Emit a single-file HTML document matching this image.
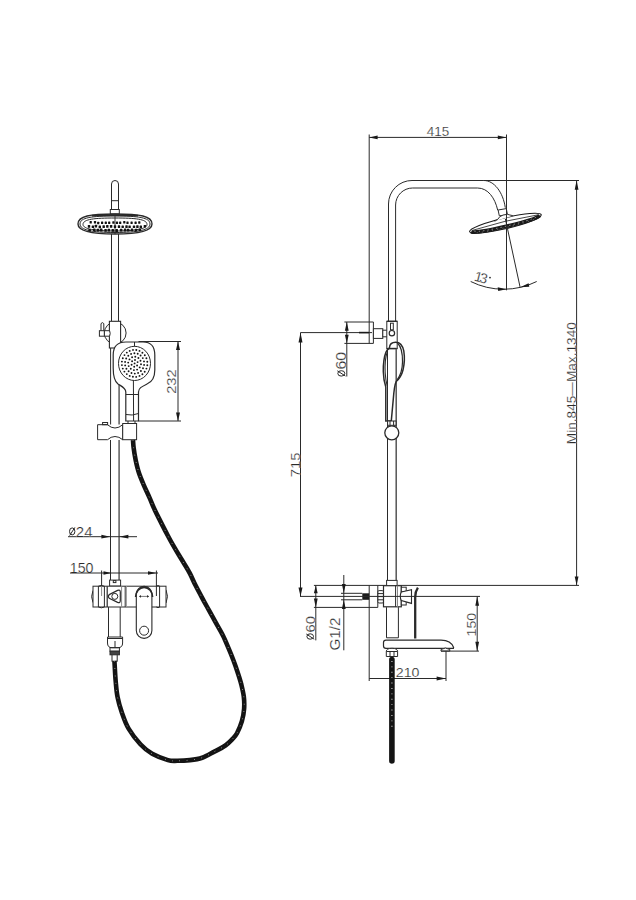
<!DOCTYPE html>
<html><head><meta charset="utf-8">
<style>
html,body{margin:0;padding:0;background:#fff;width:636px;height:900px;overflow:hidden}
svg{display:block}
text{font-family:"Liberation Sans",sans-serif;fill:#2a2a2a;stroke:#fff;stroke-width:0.22px;paint-order:normal}
</style></head><body>
<svg width="636" height="900" viewBox="0 0 636 900">
<rect width="636" height="900" fill="#fff"/>
<g fill="none" stroke="#2a2a2a" stroke-width="1">

<!-- ================= LEFT VIEW ================= -->
<!-- top stub -->
<path d="M111.5 210 V184 A3.5 3.5 0 0 1 118.5 184 V210"/>
<line x1="111.5" y1="200.7" x2="118.5" y2="200.7"/>
<rect x="110.3" y="209.5" width="9" height="4.5"/>
<!-- shower head front -->
<path d="M78 224 C78 216 90 214 115 214 C140 214 152 216 152 224 C152 231 140 234 115 234 C90 234 78 231 78 224 Z" stroke-width="1.4"/>
<path d="M92 215.6 Q115 214.6 138 215.6" stroke-width="1.6"/>
<line x1="115" y1="216" x2="115" y2="234" stroke-width="0.9"/>
<path d="M80 224 C80 217.5 92 216 115 216 C138 216 150 217.5 150 224 C150 230 138 232.5 115 232.5 C92 232.5 80 230 80 224 Z"/>
<path d="M83 224.5 C83 219 95 218 115 218 C135 218 147 219 147 224.5 C147 229 135 231 115 231 C95 231 83 229 83 224.5 Z"/>

<!-- rail pipe -->
<line x1="111.5" y1="234" x2="111.5" y2="321"/>
<line x1="118.5" y1="234" x2="118.5" y2="321"/>
<line x1="110.6" y1="348" x2="110.6" y2="424.5"/>
<line x1="119.1" y1="383" x2="119.1" y2="424.5" stroke="#666" stroke-width="1.6"/>
<line x1="110.5" y1="440" x2="110.5" y2="580"/>
<line x1="119.1" y1="440" x2="119.1" y2="580" stroke="#666" stroke-width="1.6"/>

<!-- slider -->
<circle cx="115.2" cy="333" r="10.9"/>
<rect x="109.4" y="321.3" width="11.2" height="26.7" fill="#fff" stroke-width="1.1"/>
<rect x="99.4" y="330.7" width="5" height="5.5" fill="#fff"/>
<path d="M104.4 330.7 H109.6 Q110.8 333.4 109.6 336.2 H104.4 Z" fill="#fff"/>
<path d="M101 330.7 V323.6 Q102.4 321.6 103.8 323.6 V330.7"/>
<!-- hand shower front -->
<path d="M125.8 421 V392 C125.8 388 122 386.5 118 384 C114 381 113.2 376 113.2 368 V355 C113.2 346 118 342 126 342 H143 C151 342 154.8 346 154.8 355 V370 C154.8 378 152 382 147 384 C142 386.5 138.5 388 138.5 392 V421 Z" fill="#fff" stroke-width="1.2"/>
<ellipse cx="134.5" cy="363.4" rx="16" ry="17.1"/>
<line x1="125.8" y1="394.5" x2="138.5" y2="394.5"/>
<path d="M133.4 380.5 L133.6 421"/>
<path d="M126 414.5 Q132 416 138.5 413.5"/>
<line x1="134.5" y1="342" x2="134.5" y2="346.5"/>

<!-- dimension 232 -->
<line x1="138.5" y1="341.5" x2="181" y2="341.5"/>
<line x1="138.5" y1="421" x2="181" y2="421"/>
<line x1="178" y1="341.5" x2="178" y2="421"/>

<!-- holder -->
<path d="M97.6 424.7 H107.5 Q111 428 115 428 Q119 428 122.7 424.7 V439.7 Q119 436.5 115 436.5 Q111 436.5 107.5 439.7 H97.6 Z" fill="#fff"/>
<rect x="122.7" y="423.5" width="13.9" height="16.2" fill="#fff"/>
<rect x="102.6" y="422.5" width="5" height="2.2"/>
<line x1="128" y1="421" x2="128" y2="423.5"/>
<line x1="135" y1="421" x2="135" y2="423.5"/>

<!-- dim Ø24 -->
<line x1="68" y1="536.7" x2="137" y2="536.7"/>
<!-- dim 150 -->
<line x1="70" y1="573" x2="158" y2="573"/>
<line x1="101.6" y1="570.5" x2="101.6" y2="586.2"/>
<line x1="156.4" y1="570.5" x2="156.4" y2="586.2"/>

<!-- mixer cap -->
<rect x="109.6" y="580.1" width="11" height="6" fill="#fff"/>
<rect x="113.3" y="580.6" width="2.6" height="2"/>
<!-- mixer body -->
<path d="M93 590.5 Q90.2 596.6 93 602.6"/>
<path d="M166 589.8 Q169 596.4 166 603"/>
<rect x="93" y="586.2" width="73" height="20.8" fill="#fff"/>
<path d="M98.4 586.2 Q101.4 584.6 104.4 586.2 M98.4 607 Q101.4 608.6 104.4 607"/>
<line x1="98.4" y1="586.2" x2="98.4" y2="607"/>
<line x1="104.4" y1="586.2" x2="104.4" y2="607"/>
<line x1="101.6" y1="586.2" x2="101.6" y2="596" stroke="#888"/>
<line x1="107.2" y1="586.2" x2="107.2" y2="607" stroke-width="1.2"/>
<line x1="121.6" y1="586.2" x2="121.6" y2="607" stroke="#888"/>
<line x1="125.2" y1="586.2" x2="125.2" y2="607"/>
<line x1="126.4" y1="586.2" x2="126.4" y2="607" stroke="#999"/>
<path d="M156.3 586.2 Q158 584.8 159.7 586.2 M156.3 607 Q158 608.4 159.7 607"/>
<line x1="156.4" y1="586.2" x2="156.4" y2="596"/>
<line x1="159.6" y1="586.2" x2="159.6" y2="607"/>
<!-- triangle knob (points left) -->
<path d="M109.2 594.6 L117.6 590.4 Q120.3 589.4 120.3 592.2 V600.6 Q120.3 603.4 117.6 602.4 L109.2 598.2 Q107.4 596.4 109.2 594.6 Z" stroke-width="1.2"/>
<circle cx="114.8" cy="596.4" r="3"/>
<!-- lever -->
<path d="M136.3 594.2 A7.8 7.8 0 0 1 151.9 594.2 V630.6 A7.8 7.8 0 0 1 136.3 630.6 Z" fill="#fff" stroke-width="1.1"/>
<path d="M135.6 597 A8.5 9.6 0 0 1 152.6 597" stroke-width="1.6"/>
<circle cx="144.1" cy="630.7" r="4.5"/>
<line x1="139.5" y1="596.4" x2="148.8" y2="596.4" stroke="#777"/>
<path d="M139 596.4 l2 -1.3 v2.6 z M149 596.4 l-2 -1.3 v2.6 z" fill="#2a2a2a" stroke="none"/>

<!-- below mixer -->
<line x1="108.5" y1="607.1" x2="108.5" y2="637"/>
<line x1="120.2" y1="607.1" x2="120.2" y2="637"/>
<path d="M107.5 637 H122.6 V643 Q122.6 647.7 118 647.7 H112 Q107.5 647.7 107.5 643 Z" fill="#fff"/>
<line x1="107.5" y1="638.5" x2="122.6" y2="638.5"/>
<line x1="115" y1="641" x2="115" y2="647.7"/>
<rect x="110" y="647.7" width="9.4" height="3.5"/>
<rect x="110" y="651.2" width="9.4" height="3.6" fill="#444"/>
<rect x="112" y="654.8" width="5.2" height="6.4" fill="#fff"/>

<!-- ================= RIGHT VIEW ================= -->
<!-- 415 dim -->
<line x1="369.2" y1="137.4" x2="506.5" y2="137.4"/>
<line x1="369.2" y1="134.5" x2="369.2" y2="343.4"/>
<!-- pipe with bend -->
<path d="M388.5 321.3 V204 A23.5 23.5 0 0 1 412 180.5 H483.9 C494 180.5 503 192 505.3 207.7"/>
<path d="M395.6 321.3 V205 A17 17 0 0 1 412.6 188 H477.6 C488 188 495 198 497.7 210.2"/>
<!-- top extension -->
<line x1="483.9" y1="180.5" x2="579" y2="180.5"/>

<!-- shower head tilted -->
<path d="M498.1 210 L506.3 208.6 L507.5 215 L499.3 215.8 Z" fill="#fff"/>
<g transform="translate(505.4,223.2) rotate(-13.3)">
<ellipse cx="0" cy="0" rx="36.8" ry="5.4" fill="#fff" stroke="#1a1a1a" stroke-width="1.1"/>
<path d="M-35.2 0.4 A35.5 3.4 0 0 0 35.2 0.4" stroke="#1a1a1a" stroke-width="3.8"/>
<path d="M-32 1.0 A33 2.8 0 0 0 32 1.0" stroke="#fff" stroke-width="0.8" stroke-dasharray="1.4 3" opacity="0.6"/>
<path d="M-30 2.6 A31 2.2 0 0 0 30 2.6" stroke="#fff" stroke-width="0.6" stroke-dasharray="1.2 4" opacity="0.5"/>
<path d="M-34 -0.6 Q0 -3.2 34 -0.6" stroke-width="0.8"/>
<path d="M-10 -4.3 Q-6 -5.2 -4 -7.6 Q-1 -9 4 -8.2 Q6 -7 9 -5.6" fill="#fff" stroke-width="0.9"/>
</g>
<!-- 13 deg -->
<line x1="506.5" y1="134.5" x2="506.5" y2="290.3"/>
<line x1="505.4" y1="219" x2="520.2" y2="287.6"/>
<path d="M470.7 281.5 A74.3 74.3 0 0 0 536.7 281.5"/>

<!-- wall bracket top -->
<line x1="344.4" y1="322" x2="373.4" y2="322"/>
<line x1="344.4" y1="343.4" x2="373.4" y2="343.4"/>
<line x1="373.4" y1="322" x2="373.4" y2="343.4"/>
<line x1="346.8" y1="322" x2="346.8" y2="376.5"/>
<line x1="300.5" y1="332.6" x2="372" y2="332.6"/>
<rect x="373.4" y="328.7" width="9.4" height="9.7" fill="#fff"/>
<rect x="382.8" y="330.2" width="4.8" height="6.6" fill="#fff"/>
<!-- slider on rail -->
<rect x="386.8" y="321.3" width="10.4" height="27.3" fill="#fff"/>
<line x1="386.8" y1="348.6" x2="397.2" y2="348.6" stroke-width="1.4"/>
<line x1="386.8" y1="321.3" x2="397.2" y2="321.3" stroke-width="1.3"/>
<circle cx="391.9" cy="333.2" r="2.7" stroke-width="1.2"/>
<rect x="390.5" y="323.2" width="2.8" height="6.6"/>
<!-- lower rail -->
<line x1="387.5" y1="348.6" x2="387.5" y2="580"/>
<line x1="396.2" y1="348.6" x2="396.2" y2="580" stroke="#555" stroke-width="1.5"/>
<!-- hand shower side -->
<path d="M389.4 348 C389.6 344.5 392 342.3 395.7 342.3 C399.5 342.3 402.6 345.5 403.8 351 C404.6 356 404.4 364 403 370 C401.6 375.5 399 379 396.2 381.5 C394.6 384.5 393.8 392 393.2 400 L391.3 420.8 L385.8 421 L385.8 387 C384.5 383 383.4 377 383.3 371.5 C383.2 364 384 357 386 352 C387 350 388 348.8 389.4 348 Z" stroke-width="1.5"/>
<path d="M397.5 343.2 C401.5 346.5 402.6 354 402.5 362 C402.4 370 400 376 397 380" stroke-width="1.2"/>
<path d="M387.4 351.5 C385.4 357 384.8 366 385.2 373 C385.6 379 386.4 383 387.2 386" stroke-width="1.1"/>
<line x1="389.4" y1="348.4" x2="396.2" y2="348.4"/>
<rect x="387.6" y="421" width="8.4" height="4.3" fill="#fff"/>
<line x1="390" y1="421" x2="390" y2="425.3"/>
<line x1="393.6" y1="421" x2="393.6" y2="425.3"/>
<circle cx="391.8" cy="432.8" r="7" fill="#fff" stroke-width="1.3"/>

<!-- 715 dim -->
<line x1="300.5" y1="332.6" x2="300.5" y2="596.4"/>

<!-- 1340 dim -->
<line x1="576.6" y1="180.5" x2="576.6" y2="585.2"/>
<line x1="313.9" y1="585.4" x2="579" y2="585.4"/>

<!-- bottom flange -->
<line x1="313.9" y1="607.4" x2="377.8" y2="607.4"/>
<line x1="377.8" y1="585.4" x2="377.8" y2="607.4"/>
<line x1="369.2" y1="585.4" x2="369.2" y2="681"/>
<line x1="315.8" y1="585.4" x2="315.8" y2="640.4"/>
<line x1="343.8" y1="575" x2="343.8" y2="650.3"/>
<line x1="341" y1="593.3" x2="362.3" y2="593.3"/>
<line x1="341" y1="599.8" x2="362.3" y2="599.8"/>
<rect x="362.3" y="593.3" width="6.9" height="6.5" fill="#1a1a1a" stroke="none"/>
<!-- connector nut -->
<rect x="377.9" y="590.6" width="5.6" height="12.4" rx="1.2" fill="#fff"/>
<line x1="377.9" y1="593.6" x2="383.5" y2="593.6"/>
<line x1="377.9" y1="596.6" x2="383.5" y2="596.6"/>
<line x1="377.9" y1="599.8" x2="383.5" y2="599.8"/>
<!-- mixer body side -->
<rect x="386.6" y="580.4" width="10.5" height="5.6" fill="#fff"/>
<rect x="383.5" y="585.7" width="17.8" height="21.1" fill="#fff" stroke-width="1.2"/>
<line x1="395.6" y1="585.7" x2="395.6" y2="606.8"/>
<line x1="397.5" y1="585.7" x2="397.5" y2="606.8" stroke="#888"/>
<rect x="401.3" y="587.2" width="4.9" height="4.5" fill="#fff"/>
<rect x="401.3" y="600.5" width="4.9" height="4.5" fill="#fff"/>
<path d="M401.3 592 L411.5 589.8 V603.4 L401.3 600.5 Q399.2 596.3 401.3 592 Z" fill="#fff" stroke-width="1.1"/>
<path d="M417.9 587.6 Q415.2 591.5 415.2 597 V638.6" stroke-width="2.3"/>
<line x1="300" y1="596.4" x2="480" y2="596.4"/>
<!-- pipe below -->
<line x1="386.5" y1="607.2" x2="386.5" y2="637.8"/>
<line x1="398.4" y1="607.2" x2="398.4" y2="637.8"/>
<line x1="386.5" y1="637.8" x2="398.4" y2="637.8"/>
<!-- spout -->
<path d="M386 640.1 H441 C447 640.1 452 643 453.6 647.5 L453.4 648.3 H386 Q383.5 648.3 383.5 646 V642.5 Q383.5 640.1 386 640.1 Z" fill="#fff" stroke-width="1.2"/>
<path d="M441 651.1 V649.5 Q445.4 646.5 449.8 649.5 V651.1 Z" fill="#fff"/>
<line x1="441" y1="651.1" x2="479" y2="651.1"/>
<line x1="446" y1="651.1" x2="446" y2="681"/>
<line x1="477.2" y1="596.4" x2="477.2" y2="651.1"/>
<!-- 210 dim -->
<line x1="369.2" y1="678.5" x2="446" y2="678.5"/>
<!-- nut under spout -->
<path d="M386.3 656.5 V651.5 Q386.3 648.3 392 648.3 Q397.6 648.3 397.6 651.5 V656.5 Z" fill="#fff"/>
<line x1="386.3" y1="651.5" x2="397.6" y2="651.5"/>
<line x1="390" y1="651.5" x2="390" y2="656.5"/>
<line x1="394" y1="651.5" x2="394" y2="656.5"/>
</g>

<!--DOTS--><g fill="#151515" stroke="none"><circle cx="134.6" cy="363.4" r="0.95"/><circle cx="134.2" cy="366.8" r="0.95"/><circle cx="131.6" cy="364.7" r="0.95"/><circle cx="132.1" cy="361.3" r="0.95"/><circle cx="135.0" cy="360.0" r="0.95"/><circle cx="137.6" cy="362.1" r="0.95"/><circle cx="137.1" cy="365.5" r="0.95"/><circle cx="137.1" cy="369.6" r="0.95"/><circle cx="133.9" cy="370.1" r="0.95"/><circle cx="130.8" cy="368.8" r="0.95"/><circle cx="128.7" cy="366.1" r="0.95"/><circle cx="128.2" cy="362.6" r="0.95"/><circle cx="129.5" cy="359.4" r="0.95"/><circle cx="132.1" cy="357.2" r="0.95"/><circle cx="135.3" cy="356.7" r="0.95"/><circle cx="138.4" cy="358.0" r="0.95"/><circle cx="140.5" cy="360.7" r="0.95"/><circle cx="141.0" cy="364.2" r="0.95"/><circle cx="139.7" cy="367.4" r="0.95"/><circle cx="131.5" cy="373.0" r="0.95"/><circle cx="128.6" cy="371.3" r="0.95"/><circle cx="126.4" cy="368.7" r="0.95"/><circle cx="125.2" cy="365.4" r="0.95"/><circle cx="125.1" cy="361.9" r="0.95"/><circle cx="126.2" cy="358.5" r="0.95"/><circle cx="128.3" cy="355.8" r="0.95"/><circle cx="131.1" cy="353.9" r="0.95"/><circle cx="134.4" cy="353.2" r="0.95"/><circle cx="137.7" cy="353.8" r="0.95"/><circle cx="140.6" cy="355.5" r="0.95"/><circle cx="142.8" cy="358.1" r="0.95"/><circle cx="144.0" cy="361.4" r="0.95"/><circle cx="144.1" cy="364.9" r="0.95"/><circle cx="143.0" cy="368.3" r="0.95"/><circle cx="140.9" cy="371.0" r="0.95"/><circle cx="138.1" cy="372.9" r="0.95"/><circle cx="134.8" cy="373.6" r="0.95"/><circle cx="129.7" cy="375.9" r="0.95"/><circle cx="126.8" cy="374.1" r="0.95"/><circle cx="124.4" cy="371.6" r="0.95"/><circle cx="122.8" cy="368.6" r="0.95"/><circle cx="121.9" cy="365.1" r="0.95"/><circle cx="121.9" cy="361.6" r="0.95"/><circle cx="122.8" cy="358.2" r="0.95"/><circle cx="124.5" cy="355.1" r="0.95"/><circle cx="126.8" cy="352.6" r="0.95"/><circle cx="129.7" cy="350.9" r="0.95"/><circle cx="133.0" cy="349.9" r="0.95"/><circle cx="136.3" cy="350.0" r="0.95"/><circle cx="139.5" cy="350.9" r="0.95"/><circle cx="142.4" cy="352.7" r="0.95"/><circle cx="144.8" cy="355.2" r="0.95"/><circle cx="146.4" cy="358.2" r="0.95"/><circle cx="147.3" cy="361.7" r="0.95"/><circle cx="147.3" cy="365.2" r="0.95"/><circle cx="146.4" cy="368.6" r="0.95"/><circle cx="144.7" cy="371.7" r="0.95"/><circle cx="142.4" cy="374.2" r="0.95"/><circle cx="139.5" cy="375.9" r="0.95"/><circle cx="136.2" cy="376.9" r="0.95"/><circle cx="132.9" cy="376.8" r="0.95"/></g>
<g fill="#111" stroke="none"><rect x="89.6" y="220.9" width="2.2" height="2.5" rx="0.5"/><rect x="93.9" y="221.1" width="2.2" height="2.5" rx="0.5"/><rect x="97.1" y="221.7" width="2.2" height="2.5" rx="0.5"/><rect x="101.0" y="221.6" width="2.2" height="2.5" rx="0.5"/><rect x="104.7" y="221.4" width="2.2" height="2.5" rx="0.5"/><rect x="108.1" y="221.4" width="2.2" height="2.5" rx="0.5"/><rect x="112.3" y="221.3" width="2.2" height="2.5" rx="0.5"/><rect x="115.9" y="221.4" width="2.2" height="2.5" rx="0.5"/><rect x="119.1" y="221.5" width="2.2" height="2.5" rx="0.5"/><rect x="123.2" y="221.1" width="2.2" height="2.5" rx="0.5"/><rect x="126.4" y="221.6" width="2.2" height="2.5" rx="0.5"/><rect x="130.5" y="221.5" width="2.2" height="2.5" rx="0.5"/><rect x="134.5" y="221.5" width="2.2" height="2.5" rx="0.5"/><rect x="138.2" y="221.2" width="2.2" height="2.5" rx="0.5"/><rect x="87.8" y="225.1" width="2.4" height="2.7" rx="0.5"/><rect x="91.7" y="225.4" width="2.4" height="2.7" rx="0.5"/><rect x="94.7" y="224.8" width="2.4" height="2.7" rx="0.5"/><rect x="98.6" y="225.5" width="2.4" height="2.7" rx="0.5"/><rect x="102.5" y="225.2" width="2.4" height="2.7" rx="0.5"/><rect x="106.1" y="225.1" width="2.4" height="2.7" rx="0.5"/><rect x="109.9" y="225.0" width="2.4" height="2.7" rx="0.5"/><rect x="113.8" y="225.2" width="2.4" height="2.7" rx="0.5"/><rect x="117.8" y="225.2" width="2.4" height="2.7" rx="0.5"/><rect x="121.5" y="225.4" width="2.4" height="2.7" rx="0.5"/><rect x="125.3" y="225.2" width="2.4" height="2.7" rx="0.5"/><rect x="128.4" y="225.4" width="2.4" height="2.7" rx="0.5"/><rect x="132.8" y="225.4" width="2.4" height="2.7" rx="0.5"/><rect x="136.2" y="225.3" width="2.4" height="2.7" rx="0.5"/><rect x="139.6" y="225.4" width="2.4" height="2.7" rx="0.5"/><rect x="143.7" y="224.9" width="2.4" height="2.7" rx="0.5"/><rect x="88.4" y="229.0" width="2.5" height="2.8" rx="0.5"/><rect x="93.0" y="228.4" width="2.5" height="2.8" rx="0.5"/><rect x="96.7" y="228.7" width="2.5" height="2.8" rx="0.5"/><rect x="100.0" y="228.6" width="2.5" height="2.8" rx="0.5"/><rect x="104.3" y="229.0" width="2.5" height="2.8" rx="0.5"/><rect x="107.6" y="228.8" width="2.5" height="2.8" rx="0.5"/><rect x="111.5" y="228.9" width="2.5" height="2.8" rx="0.5"/><rect x="115.5" y="229.1" width="2.5" height="2.8" rx="0.5"/><rect x="119.9" y="228.8" width="2.5" height="2.8" rx="0.5"/><rect x="123.8" y="228.6" width="2.5" height="2.8" rx="0.5"/><rect x="126.9" y="228.8" width="2.5" height="2.8" rx="0.5"/><rect x="130.7" y="228.5" width="2.5" height="2.8" rx="0.5"/><rect x="134.8" y="228.8" width="2.5" height="2.8" rx="0.5"/><rect x="138.5" y="228.4" width="2.5" height="2.8" rx="0.5"/></g><!--/DOTS-->
<!-- hoses -->
<!--HOSE-->
<g fill="none">
<path d="M133.0 440.0 C133.1 441.3 133.2 444.2 133.6 447.6 C134.0 451.0 134.8 456.0 135.7 460.2 C136.6 464.4 137.5 468.5 138.9 472.7 C140.3 476.9 142.1 481.1 143.9 485.3 C145.7 489.5 147.8 493.8 149.6 497.9 C151.4 502.0 152.9 505.9 154.8 510.0 C156.7 514.1 159.0 518.4 161.1 522.6 C163.2 526.8 165.4 531.0 167.6 535.2 C169.8 539.4 172.1 543.5 174.5 547.7 C176.9 551.9 179.6 556.1 182.1 560.3 C184.6 564.5 187.4 568.7 189.6 572.9 C191.8 577.1 193.4 581.2 195.5 585.3 C197.6 589.4 199.8 593.5 202.0 597.6 C204.2 601.8 206.6 606.0 208.9 610.2 C211.2 614.4 213.5 618.5 215.8 622.7 C218.1 626.9 220.7 631.1 222.8 635.3 C224.9 639.5 226.6 643.7 228.4 647.9 C230.2 652.1 232.0 656.5 233.5 660.5 C235.0 664.5 236.3 668.2 237.6 672.2 C238.9 676.2 240.3 680.3 241.3 684.4 C242.3 688.5 243.3 692.5 243.8 696.6 C244.3 700.7 244.4 704.8 244.1 708.9 C243.8 713.0 243.1 717.0 241.9 721.1 C240.7 725.2 238.6 730.2 237.0 733.3 C235.4 736.3 234.0 737.4 232.1 739.4 C230.2 741.4 228.3 743.5 225.4 745.5 C222.5 747.5 218.3 749.6 214.4 751.6 C210.5 753.6 206.3 756.3 202.2 757.7 C198.1 759.1 194.1 759.6 189.9 760.1 C185.8 760.6 181.0 760.8 177.3 760.8 C173.6 760.8 172.1 761.3 167.9 760.1 C163.7 758.9 156.8 756.4 152.2 753.8 C147.6 751.2 144.3 748.5 140.4 744.3 C136.5 740.1 131.7 733.8 128.6 728.6 C125.5 723.4 123.8 718.1 122.0 712.9 C120.2 707.7 118.6 702.5 117.6 697.2 C116.5 692.0 116.2 686.6 115.7 681.4 C115.2 676.1 114.9 669.1 114.7 665.7 C114.5 662.3 114.5 661.8 114.4 661.0" stroke="#141414" stroke-width="4.6" stroke-linecap="butt"/>
<path d="M133.0 440.0 C133.1 441.3 133.2 444.2 133.6 447.6 C134.0 451.0 134.8 456.0 135.7 460.2 C136.6 464.4 137.5 468.5 138.9 472.7 C140.3 476.9 142.1 481.1 143.9 485.3 C145.7 489.5 147.8 493.8 149.6 497.9 C151.4 502.0 152.9 505.9 154.8 510.0 C156.7 514.1 159.0 518.4 161.1 522.6 C163.2 526.8 165.4 531.0 167.6 535.2 C169.8 539.4 172.1 543.5 174.5 547.7 C176.9 551.9 179.6 556.1 182.1 560.3 C184.6 564.5 187.4 568.7 189.6 572.9 C191.8 577.1 193.4 581.2 195.5 585.3 C197.6 589.4 199.8 593.5 202.0 597.6 C204.2 601.8 206.6 606.0 208.9 610.2 C211.2 614.4 213.5 618.5 215.8 622.7 C218.1 626.9 220.7 631.1 222.8 635.3 C224.9 639.5 226.6 643.7 228.4 647.9 C230.2 652.1 232.0 656.5 233.5 660.5 C235.0 664.5 236.3 668.2 237.6 672.2 C238.9 676.2 240.3 680.3 241.3 684.4 C242.3 688.5 243.3 692.5 243.8 696.6 C244.3 700.7 244.4 704.8 244.1 708.9 C243.8 713.0 243.1 717.0 241.9 721.1 C240.7 725.2 238.6 730.2 237.0 733.3 C235.4 736.3 234.0 737.4 232.1 739.4 C230.2 741.4 228.3 743.5 225.4 745.5 C222.5 747.5 218.3 749.6 214.4 751.6 C210.5 753.6 206.3 756.3 202.2 757.7 C198.1 759.1 194.1 759.6 189.9 760.1 C185.8 760.6 181.0 760.8 177.3 760.8 C173.6 760.8 172.1 761.3 167.9 760.1 C163.7 758.9 156.8 756.4 152.2 753.8 C147.6 751.2 144.3 748.5 140.4 744.3 C136.5 740.1 131.7 733.8 128.6 728.6 C125.5 723.4 123.8 718.1 122.0 712.9 C120.2 707.7 118.6 702.5 117.6 697.2 C116.5 692.0 116.2 686.6 115.7 681.4 C115.2 676.1 114.9 669.1 114.7 665.7 C114.5 662.3 114.5 661.8 114.4 661.0" stroke="#fff" stroke-width="1" stroke-dasharray="0.9 6.5" opacity="0.55"/>
<path d="M391.9 659.6 V761" stroke="#141414" stroke-width="5.6" stroke-linecap="round"/>
<path d="M391.9 661 V730" stroke="#fff" stroke-width="1.3" stroke-dasharray="0.9 4.5" opacity="0.7"/>
</g>
<!--/HOSE-->

<!-- arrowheads -->
<g fill="#1a1a1a" stroke="none">
<!-- 232 -->
<path d="M178 341.5 L176 350 L180 350 Z"/>
<path d="M178 421 L176 412.5 L180 412.5 Z"/>
<!-- Ø24 -->
<path d="M110.3 536.7 L101.4 534.8 L101.4 538.6 Z"/>
<path d="M119.3 536.7 L128.4 534.8 L128.4 538.6 Z"/>
<!-- 150 left -->
<path d="M111.3 573 L103.5 571.2 L103.5 574.8 Z"/>
<path d="M156.5 573 L148 571.2 L148 574.8 Z"/>
<!-- 415 -->
<path d="M369.2 137.4 L377.6 135.5 L377.6 139.3 Z"/>
<path d="M506.5 137.4 L497.8 135.5 L497.8 139.3 Z"/>
<!-- 1340 -->
<path d="M576.6 180.5 L574.7 189.8 L578.5 189.8 Z"/>
<path d="M576.6 585.2 L574.7 576.5 L578.5 576.5 Z"/>
<!-- 715 -->
<path d="M300.5 332.6 L298.5 342.6 L302.5 342.6 Z"/>
<path d="M300.5 596.4 L298.5 587.6 L302.5 587.6 Z"/>
<!-- Ø60 top -->
<path d="M346.8 322 L344.9 330.7 L348.7 330.7 Z"/>
<path d="M346.8 343.4 L344.9 334.7 L348.7 334.7 Z"/>
<!-- Ø60 bottom -->
<path d="M315.8 585.4 L313.9 593.3 L317.7 593.3 Z"/>
<path d="M315.8 607.4 L313.9 598.5 L317.7 598.5 Z"/>
<!-- G1/2 -->
<path d="M343.8 593.3 L341.9 584 L345.7 584 Z"/>
<path d="M343.8 599.8 L341.9 609 L345.7 609 Z"/>
<!-- 150 right -->
<path d="M477.2 596.4 L475.3 605.8 L479.1 605.8 Z"/>
<path d="M477.2 651.1 L475.3 641.7 L479.1 641.7 Z"/>
<!-- 210 -->
<path d="M446 678.5 L436.6 676.6 L436.6 680.4 Z"/>
<!-- 13 deg -->
<path d="M506.5 289.3 L497.7 287.2 L498.2 291 Z"/>
<path d="M520.2 287.3 L528.6 283.2 L529.3 286.8 Z"/>
<!-- bracket centre mark -->
<path d="M359 331.8 H369 V333.4 H359 Z"/>
</g>

<!-- texts -->
<g>
<!--TEXT-->
<text x="426.80" y="135.80" font-size="12.8" textLength="22.43" lengthAdjust="spacingAndGlyphs">415</text>
<text x="75.80" y="536.60" font-size="14" textLength="16.72" lengthAdjust="spacingAndGlyphs">24</text>
<text x="69.80" y="572.80" font-size="14" textLength="23.71" lengthAdjust="spacingAndGlyphs">150</text>
<text x="395.80" y="676.60" font-size="13.2" textLength="23.71" lengthAdjust="spacingAndGlyphs">210</text>
<text transform="translate(176.40,393.80) rotate(-90)" font-size="12.6" textLength="24.47" lengthAdjust="spacingAndGlyphs">232</text>
<text transform="translate(300.20,477.20) rotate(-90)" font-size="13.6" textLength="24.68" lengthAdjust="spacingAndGlyphs">715</text>
<text transform="translate(346.00,369.60) rotate(-90)" font-size="14" textLength="17.75" lengthAdjust="spacingAndGlyphs">60</text>
<text transform="translate(315.00,632.40) rotate(-90)" font-size="13.5" textLength="16.48" lengthAdjust="spacingAndGlyphs">60</text>
<text transform="translate(340.20,650.60) rotate(-90)" font-size="14" textLength="33.03" lengthAdjust="spacingAndGlyphs">G1/2</text>
<text transform="translate(476.40,636.40) rotate(-90)" font-size="13.6" textLength="23.50" lengthAdjust="spacingAndGlyphs">150</text>
<text transform="translate(576.00,444.20) rotate(-90)" font-size="13.2" textLength="122.01" lengthAdjust="spacingAndGlyphs">Min.845—Max.1340</text>
<!--/TEXT-->
</g>
<!-- diameter symbols -->
<g fill="none" stroke="#2a2a2a" stroke-width="1">
<ellipse cx="72.2" cy="531.4" rx="2.7" ry="3.5"/><line x1="69.6" y1="535.6" x2="74.9" y2="527.4"/>
<ellipse cx="341.3" cy="373.4" rx="3.5" ry="2.7"/><line x1="337.3" y1="370.8" x2="345.4" y2="376.0"/>
<ellipse cx="310.2" cy="636.5" rx="3.3" ry="2.7"/><line x1="306.3" y1="634" x2="314.2" y2="639.2"/>
</g>
<text transform="translate(473.4,280.6) rotate(14)" font-size="14" fill="#2a2a2a" letter-spacing="-2.4">13</text>
<circle cx="490" cy="277.6" r="0.9" fill="#2a2a2a"/>
</svg>
</body></html>
